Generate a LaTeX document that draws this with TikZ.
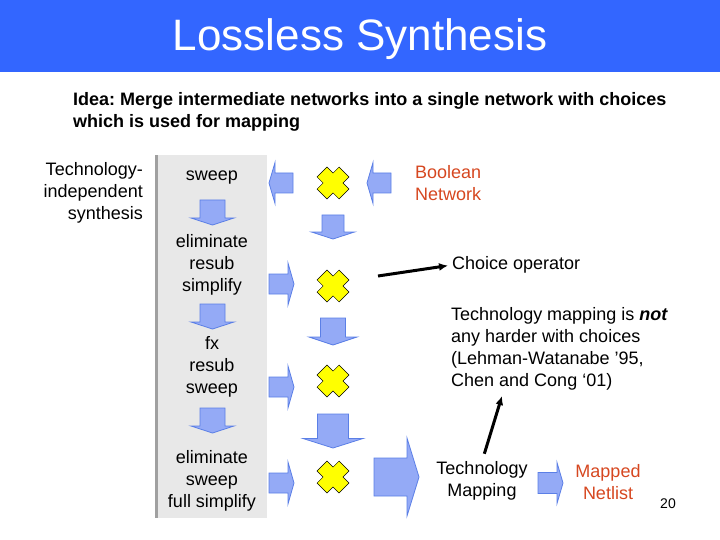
\documentclass[tikz,border=0pt]{standalone}
\usepackage{fontspec}
\setmainfont{Liberation Sans}
\usetikzlibrary{arrows.meta}
\definecolor{titlebar}{HTML}{3366FF}
\definecolor{netred}{HTML}{D64720}
\definecolor{arrowfill}{HTML}{94AAF6}
\definecolor{arrowedge}{HTML}{5B7FE6}
\definecolor{panelgrey}{HTML}{E8E8E8}
\definecolor{panelrule}{HTML}{A0A0A0}
\definecolor{choiceyellow}{HTML}{FFFF00}

% Helper: block arrow pointing along +x, placed by #1 (shift/rotate)
\newcommand{\blockarrow}[5]{%
    % #1 = placement, #2 = shaft half-width, #3 = head half-width,
    % #4 = shaft length, #5 = head length
    \draw[blockarrow, #1] (0,-#2) -- (#4,-#2) -- (#4,-#3) -- ({#4+#5},0)
        -- (#4,#3) -- (#4,#2) -- (0,#2) -- cycle;
}

% Helper: yellow choice cross (a plus turned by 45 degrees)
\newcommand{\choicecross}[2]{%
    % #1 = name, #2 = centre
    \coordinate (#1) at (#2);
    \draw[choice, shift={(#2)}, rotate=45]
        (\cl,\ca) -- (\ca,\ca) -- (\ca,\cl) -- (-\ca,\cl) -- (-\ca,\ca)
        -- (-\cl,\ca) -- (-\cl,-\ca) -- (-\ca,-\ca) -- (-\ca,-\cl)
        -- (\ca,-\cl) -- (\ca,-\ca) -- (\cl,-\ca) -- cycle;
}

\frenchspacing

\begin{document}
\begin{tikzpicture}[
    x=1pt, y=-1pt,
    >=Stealth,
    font=\fontsize{18}{22}\selectfont,
    txt/.style={inner sep=0pt, align=center},
    redtxt/.style={txt, text=netred},
    titletext/.style={inner sep=0pt, text=white, font=\fontsize{44}{48}\selectfont},
    blockarrow/.style={fill=arrowfill, draw=arrowedge, line width=0.8pt, line join=miter},
    choice/.style={fill=choiceyellow, draw=black, line width=0.5pt},
    pointer/.style={-{Latex[length=9pt,width=8pt]}, line width=3pt},
]

\def\ca{7}      % half width of a cross arm
\def\cl{15.6}   % half length of a cross arm

\useasboundingbox (0,0) rectangle (720,540);

% ══════════════════════════════════════════════════════════════
% TITLE AND IDEA
% ══════════════════════════════════════════════════════════════
\fill[titlebar] (0,0) rectangle (720,72);
\node[titletext] (title) at (360,39) {Lossless Synthesis};

\node[txt, align=left, anchor=north west, font=\fontsize{18}{22}\selectfont\bfseries]
    (idea) at (73,92)
    {Idea: Merge intermediate networks into a single network with choices\\
     which is used for mapping};

% ══════════════════════════════════════════════════════════════
% LEFT: technology-independent script
% ══════════════════════════════════════════════════════════════
\node[txt, align=right, anchor=east] (techind) at (143,193)
    {Technology-\\independent\\synthesis};

\fill[panelgrey] (155,155) rectangle (267,518);
\fill[panelrule] (155,155) rectangle (158,518);

\node[txt] (sweep)  at (212,178) {sweep};
\node[txt] (elim)   at (212,265) {eliminate\\resub\\simplify};
\node[txt] (fx)     at (212,367) {fx\\resub\\sweep};
\node[txt] (elimfs) at (212,481) {eliminate\\sweep\\full simplify};

% down arrows between the script steps
\foreach \y in {200,304,408} {
    \blockarrow{shift={(212.5,\y)}, rotate=-90}{12.5}{21.5}{18}{7}
}

% ══════════════════════════════════════════════════════════════
% MIDDLE: networks merged with choices
% ══════════════════════════════════════════════════════════════
\choicecross{c1}{333,183}
\choicecross{c2}{333,286}
\choicecross{c3}{333,381}
\choicecross{c4}{333,477}

% arrows taken from the script
\blockarrow{shift={(293,183)}, rotate=180}{10}{20.5}{18}{6}
\foreach \y in {284,387,483} {
    \blockarrow{shift={(269,\y)}}{10}{21}{19}{6}
}

% arrow from the Boolean network
\blockarrow{shift={(391,183)}, rotate=180}{10}{20.5}{18}{6}

% merging arrows, growing downwards
\blockarrow{shift={(333,215)}, rotate=-90}{11}{21.5}{17}{7}
\blockarrow{shift={(333,318)}, rotate=-90}{12.5}{24}{19}{8}
\blockarrow{shift={(333,414)}, rotate=-90}{15.5}{30}{24.5}{9.5}

% into mapping
\blockarrow{shift={(374,477)}}{19}{39}{33}{12}

% ══════════════════════════════════════════════════════════════
% RIGHT: labels and mapping
% ══════════════════════════════════════════════════════════════
\node[redtxt, align=left, anchor=west] (boolnet) at (415,183) {Boolean\\Network};

\node[txt, anchor=west] (choiceop) at (452,265) {Choice operator};
\coordinate (choicetail) at (378,276);
\draw[pointer, shorten >=4pt] (choicetail) -- (choiceop.west);

\node[txt, align=left, anchor=west] (notes) at (451,349)
    {Technology mapping is \textbf{\textit{not}}\\
     any harder with choices\\
     (Lehman-Watanabe ’95,\\
     Chen and Cong `01)};

\node[txt] (techmap) at (482,481) {Technology\\Mapping};
\coordinate (notestip) at (502,396);
\draw[pointer, shorten <=8pt] (techmap.north) -- (notestip);

\blockarrow{shift={(538,483)}}{10.5}{20.5}{19}{6}
\node[redtxt] (netlist) at (608,482) {Mapped\\Netlist};

\node[txt, font=\fontsize{14}{16}\selectfont] (pagenum) at (668,504) {20};

\end{tikzpicture}
\end{document}
